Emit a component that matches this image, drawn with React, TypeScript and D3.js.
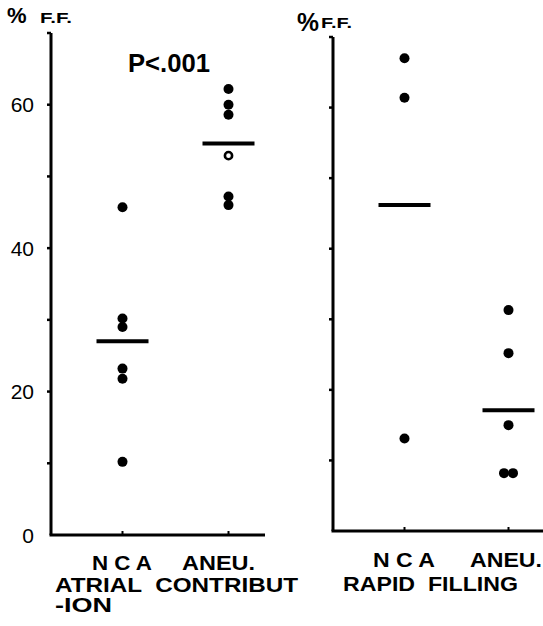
import React, { useRef, useEffect } from 'react';
import * as d3 from 'd3';

// Percent of filling fraction (% F.F.) per group.
const ticks = [0, 10, 20, 30, 40, 50, 60, 70];
const tickLabels = ['0', '20', '40', '60'];

const atrialGroups = ['NCA', 'ANEU'];
const atrialNCA = [45.7, 30.2, 29.0, 23.2, 21.8, 10.2];
const atrialANEU = [62.2, 60.0, 58.6, 52.9, 47.2, 46.0];
const atrialOpen = [false, false, false, true, false, false];
const atrialMeans = [27.0, 54.6];

const rapidGroups = ['NCA', 'ANEU'];
const rapidNCA = [67.0, 61.4, 13.1];
const rapidANEU = [31.3, 25.2, 15.0, 8.2, 8.2];
const rapidMeans = [46.2, 17.1];

const font = '"Liberation Sans", Arial, sans-serif';

type Panel = {
  left: number;
  right: number;
  top: number;
  bottom: number;
  xs: [number, number];
  groups: string[];
  series: number[][];
  open?: boolean[][];
  means: number[];
  showLabels: boolean;
};

const App = () => {
  const ref = useRef<SVGSVGElement>(null);

  useEffect(() => {
    document.body.style.margin = '0';
    const svg = d3.select(ref.current);
    svg.selectAll('*').remove();

    const panels: Panel[] = [
      {
        left: 51, right: 265, top: 33, bottom: 535, xs: [122.5, 228.5],
        groups: atrialGroups, series: [atrialNCA, atrialANEU],
        open: [atrialNCA.map(() => false), atrialOpen],
        means: atrialMeans, showLabels: true,
      },
      {
        left: 333, right: 543, top: 37, bottom: 531, xs: [404.5, 508.5],
        groups: rapidGroups, series: [rapidNCA, rapidANEU],
        means: rapidMeans, showLabels: false,
      },
    ];

    panels.forEach((p) => {
      const y = d3.scaleLinear().domain([0, 70]).range([p.bottom, p.top]);
      const x = d3.scalePoint<string>().domain(p.groups).range(p.xs);
      const g = svg.append('g');

      // axes
      g.append('line')
        .attr('x1', p.left).attr('x2', p.left)
        .attr('y1', y(70)).attr('y2', y(0))
        .attr('stroke', '#000').attr('stroke-width', 3);
      g.append('line')
        .attr('x1', p.left - 1.5).attr('x2', p.right)
        .attr('y1', y(0)).attr('y2', y(0))
        .attr('stroke', '#000').attr('stroke-width', 3);

      g.selectAll('.ytick')
        .data(ticks.slice(1))
        .join('line')
        .attr('x1', p.left - 4).attr('x2', p.left)
        .attr('y1', (d) => y(d)).attr('y2', (d) => y(d))
        .attr('stroke', '#000').attr('stroke-width', 2.5);

      g.selectAll('.xtick')
        .data(p.groups)
        .join('line')
        .attr('x1', (d) => x(d)!).attr('x2', (d) => x(d)!)
        .attr('y1', y(0)).attr('y2', y(0) - 4)
        .attr('stroke', '#000').attr('stroke-width', 2);

      if (p.showLabels) {
        g.selectAll('.ylab')
          .data(tickLabels)
          .join('text')
          .attr('x', 34)
          .attr('y', (d) => y(+d))
          .attr('dy', '0.36em')
          .attr('text-anchor', 'end')
          .attr('font-family', font)
          .attr('font-size', 21)
          .text((d) => d);
      }

      // dots, dodging exact duplicates sideways
      p.series.forEach((vals, i) => {
        const cx = x(p.groups[i])!;
        const seen = new Map<number, number>();
        const pts = vals.map((v, j) => {
          const n = seen.get(v) || 0;
          seen.set(v, n + 1);
          const dupes = vals.filter((w) => w === v).length;
          const dx = dupes > 1 ? (n - (dupes - 1) / 2) * 9 : 0;
          return { v, dx, open: p.open ? p.open[i][j] : false };
        });
        g.selectAll(null)
          .data(pts)
          .join('circle')
          .attr('cx', (d) => cx + d.dx)
          .attr('cy', (d) => y(d.v))
          .attr('r', (d) => (d.open ? 3.6 : 5))
          .attr('fill', (d) => (d.open ? '#fff' : '#000'))
          .attr('stroke', '#000')
          .attr('stroke-width', (d) => (d.open ? 2.6 : 0));

        g.append('line')
          .attr('x1', cx - 26).attr('x2', cx + 26)
          .attr('y1', y(p.means[i])).attr('y2', y(p.means[i]))
          .attr('stroke', '#000').attr('stroke-width', 4);
      });
    });

    const bold = (sel: any) => sel.attr('font-family', font).attr('font-weight', 'bold').attr('fill', '#000');

    // unit labels
    bold(svg.append('text').attr('x', 7).attr('y', 23).attr('font-size', 22).text('%'));
    bold(svg.append('text').attr('x', 40).attr('y', 23).attr('font-size', 14)
      .attr('textLength', 32).attr('lengthAdjust', 'spacingAndGlyphs').text('F.F.'));
    bold(svg.append('text').attr('x', 297).attr('y', 31).attr('font-size', 25)
      .attr('textLength', 22).attr('lengthAdjust', 'spacingAndGlyphs').text('%'));
    bold(svg.append('text').attr('x', 321).attr('y', 28).attr('font-size', 15)
      .attr('textLength', 31).attr('lengthAdjust', 'spacingAndGlyphs').text('F.F.'));

    bold(svg.append('text').attr('x', 128).attr('y', 72).attr('font-size', 25)
      .attr('textLength', 82).attr('lengthAdjust', 'spacingAndGlyphs').text('P<.001'));

    // category labels
    const cat = (txt: string, x0: number, yb: number, w: number) =>
      bold(svg.append('text').attr('x', x0).attr('y', yb).attr('font-size', 21)
        .attr('textLength', w).attr('lengthAdjust', 'spacingAndGlyphs')
        .attr('xml:space', 'preserve').text(txt));

    cat('N C A', 92, 570, 60);
    cat('ANEU.', 182, 570, 73);
    cat('ATRIAL  CONTRIBUT', 55, 592, 243);
    cat('-ION', 55, 612, 57);
    cat('N C A', 373, 567, 62);
    cat('ANEU.', 470, 567, 72);
    cat('RAPID  FILLING', 343, 591, 175);
  }, []);

  return <svg ref={ref} width={543} height={626} style={{ display: 'block', background: '#fff' }} />;
};

export default App;
